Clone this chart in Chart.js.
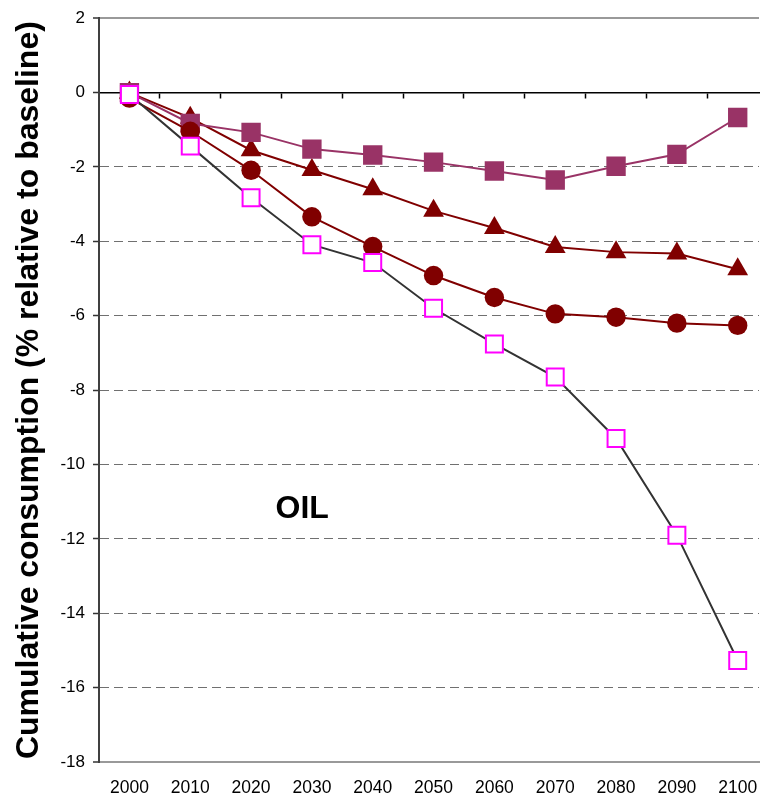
<!DOCTYPE html>
<html>
<head>
<meta charset="utf-8">
<script src="https://cdn.jsdelivr.net/npm/chart.js@4/dist/chart.umd.min.js"></script>
<style>
  html, body { margin: 0; padding: 0; background: #ffffff; overflow: hidden; }
  canvas { display: block; }
</style>
</head>
<body>
<canvas id="chart" width="764" height="799"></canvas>
<script>
// Years on the horizontal axis
const years = [2000, 2010, 2020, 2030, 2040, 2050, 2060, 2070, 2080, 2090, 2100];

// Cumulative oil consumption, % relative to baseline, one array per scenario
const caseFilledSquare = [0, -0.83, -1.07, -1.52, -1.68, -1.87, -2.11, -2.35, -1.98, -1.66, -0.67];
const caseTriangle     = [0, -0.68, -1.55, -2.08, -2.60, -3.18, -3.64, -4.15, -4.29, -4.33, -4.75];
const caseCircle       = [-0.15, -1.04, -2.09, -3.34, -4.14, -4.92, -5.51, -5.95, -6.04, -6.20, -6.26];
const caseOpenSquare   = [-0.05, -1.44, -2.83, -4.09, -4.57, -5.80, -6.76, -7.65, -9.30, -11.90, -15.27];

// Vertical axis ticks
const yTicks = [2, 0, -2, -4, -6, -8, -10, -12, -14, -16, -18];

const yTitle = 'Cumulative consumption (% relative to baseline)';
const panelLabel = 'OIL';

const FONT = "'Liberation Sans', Arial, Helvetica, sans-serif";

const toPoints = vals => years.map((yr, i) => ({ x: yr, y: vals[i] }));
// Category boundaries, halfway between consecutive years
const boundaries = years.slice(0, -1).map((yr, i) => (yr + years[i + 1]) / 2);

const X_MIN = 1995, X_MAX = 2103.5;

// Keep the plot edges where the layout puts them, ignoring label overhang
const noEdgePadding = scale => {
  scale.paddingLeft = 0;
  scale.paddingRight = 0;
};

// Big "OIL" label inside the plot
const panelLabelPlugin = {
  id: 'panelLabel',
  afterDraw(chart) {
    const { ctx, scales } = chart;
    const px = scales.x.getPixelForValue(2028.4);
    const py = scales.y.getPixelForValue(-11.43);
    ctx.save();
    ctx.font = `bold 32px ${FONT}`;
    ctx.fillStyle = '#000000';
    ctx.textAlign = 'center';
    ctx.textBaseline = 'alphabetic';
    ctx.fillText(panelLabel, px, py);
    ctx.restore();
  }
};

new Chart(document.getElementById('chart'), {
  type: 'line',
  data: {
    datasets: [
      {
        label: 'Case D',
        data: toPoints(caseOpenSquare),
        borderColor: '#333333',
        borderWidth: 2,
        pointStyle: 'rect',
        pointRadius: 12,
        pointBorderWidth: 2,
        pointBorderColor: '#ff00ff',
        pointBackgroundColor: '#ffffff',
        tension: 0
      },
      {
        label: 'Case C',
        data: toPoints(caseCircle),
        borderColor: '#800000',
        borderWidth: 2,
        pointStyle: 'circle',
        pointRadius: 9.7,
        pointBorderWidth: 0,
        pointBackgroundColor: '#800000',
        tension: 0
      },
      {
        label: 'Case A',
        data: toPoints(caseFilledSquare),
        borderColor: '#993366',
        borderWidth: 2,
        pointStyle: 'rect',
        pointRadius: 13.7,
        pointBorderWidth: 0,
        pointBackgroundColor: '#993366',
        tension: 0
      },
      {
        label: 'Case B',
        data: toPoints(caseTriangle),
        borderColor: '#800000',
        borderWidth: 2,
        pointStyle: 'triangle',
        pointRadius: 12,
        pointBorderWidth: 0,
        pointBackgroundColor: '#800000',
        tension: 0
      }
    ]
  },
  options: {
    responsive: false,
    animation: false,
    devicePixelRatio: 1,
    layout: { autoPadding: false, padding: { left: 0, right: 5, top: 14, bottom: 0 } },
    plugins: {
      legend: { display: false },
      tooltip: { enabled: false }
    },
    scales: {
      // Axis line through zero with tick marks between the years
      x: {
        type: 'linear',
        position: { y: 0 },
        min: X_MIN,
        max: X_MAX,
        afterBuildTicks: scale => { scale.ticks = boundaries.map(v => ({ value: v })); },
        afterFit: noEdgePadding,
        ticks: { display: false },
        grid: {
          drawOnChartArea: false,
          drawTicks: true,
          tickLength: 5,
          tickColor: '#000000',
          tickWidth: 1.5
        },
        border: { display: true, color: '#000000', width: 1.5 }
      },
      // Year labels along the bottom edge
      x2: {
        type: 'linear',
        position: 'bottom',
        min: X_MIN,
        max: X_MAX,
        afterBuildTicks: scale => { scale.ticks = years.map(v => ({ value: v })); },
        afterFit: scale => { scale.height = 37; noEdgePadding(scale); },
        ticks: {
          color: '#000000',
          font: { family: FONT, size: 17.5 },
          padding: 16,
          maxRotation: 0,
          autoSkip: false,
          callback: v => String(v)
        },
        grid: { display: false, drawTicks: false },
        border: { display: true, color: '#999999', width: 2 }
      },
      y: {
        type: 'linear',
        position: 'left',
        min: -18,
        max: 2,
        afterBuildTicks: scale => { scale.ticks = yTicks.map(v => ({ value: v })); },
        afterFit: scale => { scale.width = 99; },
        ticks: {
          color: '#000000',
          font: { family: FONT, size: 17 },
          padding: 8,
          callback: v => String(v)
        },
        grid: {
          drawTicks: true,
          tickLength: 6,
          tickColor: '#333333',
          tickWidth: 1.5,
          color: ctx => {
            const v = ctx.tick ? ctx.tick.value : null;
            if (v === 0) return 'rgba(0,0,0,0)';
            if (v === 2 || v === -18) return '#999999';
            return '#707070';
          },
          lineWidth: ctx => {
            const v = ctx.tick ? ctx.tick.value : null;
            return (v === 2 || v === -18) ? 2 : 1;
          }
        },
        border: {
          display: true,
          color: '#404040',
          width: 2,
          dash: ctx => {
            const v = ctx.tick ? ctx.tick.value : null;
            if (v === null || v === 0 || v === 2 || v === -18) return [];
            return [9, 5];
          }
        },
        title: {
          display: true,
          text: yTitle,
          color: '#000000',
          font: { family: FONT, size: 32, weight: 'bold' },
          padding: { top: 10, bottom: 0 }
        }
      }
    }
  },
  plugins: [panelLabelPlugin]
});
</script>
</body>
</html>
